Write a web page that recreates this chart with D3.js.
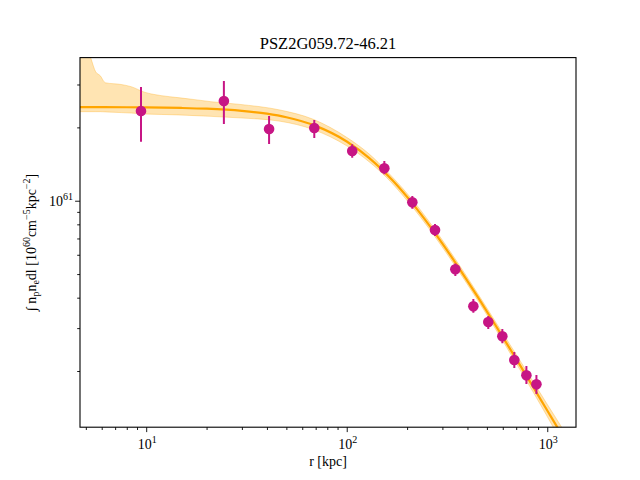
<!DOCTYPE html>
<html><head><meta charset="utf-8">
<script src="https://cdn.jsdelivr.net/npm/d3@7"></script>
<style>
body{margin:0;background:#fff;}
text{font-family:"Liberation Serif","DejaVu Serif",serif;fill:#000;}
</style></head>
<body>
<svg id="chart" width="640" height="480"></svg>
<script>
// Data
const radius = [9.42, 24.4, 41.0, 68.9, 106.5, 154, 212.4, 275.6, 348, 428, 508, 597, 685, 787, 883];
const profile = [2.335e61, 2.567e61, 1.969e61, 1.988e61, 1.600e61, 1.359e61, 9.85e60, 7.58e60, 5.23e60, 3.686e60, 3.177e60, 2.776e60, 2.218e60, 1.920e60, 1.763e60];
const profileLow = [1.747e61, 2.065e61, 1.709e61, 1.809e61, 1.501e61, 1.284e61, 9.27e60, 7.16e60, 4.91e60, 3.47e60, 2.974e60, 2.598e60, 2.057e60, 1.768e60, 1.609e60];
const profileHigh = [2.93e61, 3.10e61, 2.227e61, 2.145e61, 1.704e61, 1.455e61, 1.045e61, 8.02e60, 5.53e60, 3.95e60, 3.363e60, 2.974e60, 2.393e60, 2.096e60, 1.925e60];

const modelR = [4.6, 6, 8, 10, 15, 20, 30, 40, 50, 70, 100, 130, 170, 220, 280, 350, 450, 550, 700, 850, 1000, 1100, 1250];
const modelY = [2.423e61, 2.421e61, 2.419e61, 2.415e61, 2.403e61, 2.386e61, 2.338e61, 2.276e61, 2.202e61, 2.029e61, 1.751e61, 1.493e61, 1.207e61, 9.415e60, 7.225e60, 5.536e60, 4.03e60, 3.098e60, 2.243e60, 1.722e60, 1.377e60, 1.208e60, 1.012e60];

const bandR = [4.6, 5.0, 5.3, 5.6, 5.9, 6.25, 7.5, 8.4, 9.8, 11.9, 14.4, 17.5, 21, 28.7, 46.5, 68, 100, 130, 158, 190, 220, 280, 350, 450, 550, 700, 850, 1000, 1100, 1250];
const bandHigh = [5.2e61, 4.4e61, 3.84e61, 3.38e61, 3.26e61, 3.05e61, 3.0e61, 2.94e61, 2.79e61, 2.70e61, 2.65e61, 2.60e61, 2.55e61, 2.49e61, 2.357e61, 2.16e61, 1.82e61, 1.55e61, 1.325e61, 1.125e61, 9.74e60, 7.47e60, 5.72e60, 4.16e60, 3.20e60, 2.34e60, 1.81e60, 1.46e60, 1.29e60, 1.09e60];
const bandLow = [2.32e61, 2.32e61, 2.32e61, 2.32e61, 2.32e61, 2.315e61, 2.30e61, 2.29e61, 2.27e61, 2.26e61, 2.25e61, 2.235e61, 2.22e61, 2.19e61, 2.12e61, 1.96e61, 1.68e61, 1.44e61, 1.245e61, 1.053e61, 9.10e60, 6.98e60, 5.35e60, 3.90e60, 2.99e60, 2.15e60, 1.64e60, 1.30e60, 1.13e60, 0.93e60];

const xMajor = [10, 100, 1000];
const xMajorExp = ["1", "2", "3"];
const yMajor = [1e61];
const yMajorExp = ["61"];
const xMinor = [5,6,7,8,9,20,30,40,50,60,70,80,90,200,300,400,500,600,700,800,900];
const yMinor = [2e60,3e60,4e60,5e60,6e60,7e60,8e60,9e60,2e61,3e61];

const titleText = "PSZ2G059.72-46.21";

// Layout
const L = 80, R = 576, T = 57.6, B = 427.2;
const svg = d3.select("#chart");
const x = d3.scaleLog().domain([4.676, 1391]).range([L, R]);
const y = d3.scaleLog().domain([1.176e60, 3.868e61]).range([B, T]);

svg.append("defs").append("clipPath").attr("id","clip")
  .append("rect").attr("x",L).attr("y",T).attr("width",R-L).attr("height",B-T);

const plot = svg.append("g").attr("clip-path","url(#clip)");

const bandData = bandR.map((r,i)=>({r, lo: bandLow[i], hi: bandHigh[i]}));
plot.append("path").datum(bandData)
  .attr("d", d3.area().x(d=>x(d.r)).y0(d=>y(d.lo)).y1(d=>y(d.hi)).curve(d3.curveMonotoneX))
  .attr("fill","#FFA500").attr("fill-opacity",0.3)
  .attr("stroke","#FFA500").attr("stroke-opacity",0.3).attr("stroke-width",1);

const modelData = modelR.map((r,i)=>({r, v: modelY[i]}));
plot.append("path").datum(modelData)
  .attr("d", d3.line().x(d=>x(d.r)).y(d=>y(d.v)).curve(d3.curveMonotoneX))
  .attr("fill","none").attr("stroke","#FFA500").attr("stroke-width",2.2);

const pts = radius.map((r,i)=>({r, v: profile[i], lo: profileLow[i], hi: profileHigh[i]}));
const pg = plot.append("g");
pg.selectAll("line.err").data(pts).enter().append("line")
  .attr("x1",d=>x(d.r)).attr("x2",d=>x(d.r))
  .attr("y1",d=>y(d.lo)).attr("y2",d=>y(d.hi))
  .attr("stroke","#C71585").attr("stroke-width",2);
pg.selectAll("circle").data(pts).enter().append("circle")
  .attr("cx",d=>x(d.r)).attr("cy",d=>y(d.v)).attr("r",5.3)
  .attr("fill","#C71585");

// Axes
const xAxis = d3.axisBottom(x).tickValues(xMajor).tickSize(4.9).tickFormat("");
const gx = svg.append("g").attr("transform",`translate(0,${B})`).call(xAxis);
const gxm = svg.append("g").attr("transform",`translate(0,${B})`)
  .call(d3.axisBottom(x).tickValues(xMinor).tickSize(2.8).tickFormat(""));
const yAxis = d3.axisLeft(y).tickValues(yMajor).tickSize(4.9).tickFormat("");
const gy = svg.append("g").attr("transform",`translate(${L},0)`).call(yAxis);
const gym = svg.append("g").attr("transform",`translate(${L},0)`)
  .call(d3.axisLeft(y).tickValues(yMinor).tickSize(2.8).tickFormat(""));
[gx,gxm,gy,gym].forEach(g=>{
  g.select(".domain").remove();
  g.selectAll(".tick line").attr("stroke","#000").attr("stroke-width",0.9);
});

// tick labels
xMajor.forEach((v,i)=>{
  const t = svg.append("text").attr("x",x(v)+1).attr("y",B+22).attr("text-anchor","middle").attr("font-size",14);
  t.append("tspan").text("10");
  t.append("tspan").attr("dy",-6).attr("font-size",10).text(xMajorExp[i]);
});
yMajor.forEach((v,i)=>{
  const t = svg.append("text").attr("x",L-7).attr("y",y(v)+5).attr("text-anchor","end").attr("font-size",14);
  t.append("tspan").text("10");
  t.append("tspan").attr("dy",-6).attr("font-size",10).text(yMajorExp[i]);
});

// frame
svg.append("rect").attr("x",L).attr("y",T).attr("width",R-L).attr("height",B-T)
  .attr("fill","none").attr("stroke","#000").attr("stroke-width",1.1);

// title
svg.append("text").attr("x",(L+R)/2).attr("y",49).attr("text-anchor","middle")
  .attr("font-size",16.5).text(titleText);

// x label
svg.append("text").attr("x",(L+R)/2).attr("y",466).attr("text-anchor","middle")
  .attr("font-size",14).text("r [kpc]");

// y label
const yl = svg.append("text").attr("transform",`translate(36,${(T+B)/2}) rotate(-90)`)
  .attr("text-anchor","middle").attr("font-size",14);
yl.append("tspan").text("\u222B n");
yl.append("tspan").attr("font-size",10).attr("dy",3).text("p");
yl.append("tspan").attr("dy",-3).text("n");
yl.append("tspan").attr("font-size",10).attr("dy",3).text("e");
yl.append("tspan").attr("dy",-3).text("dl [10");
yl.append("tspan").attr("font-size",10).attr("dy",-6).text("60");
yl.append("tspan").attr("dy",6).text("cm");
yl.append("tspan").attr("font-size",10).attr("dy",-6).text("\u22125");
yl.append("tspan").attr("dy",6).text("kpc");
yl.append("tspan").attr("font-size",10).attr("dy",-6).text("\u22122");
yl.append("tspan").attr("dy",6).text("]");
</script>
</body></html>
